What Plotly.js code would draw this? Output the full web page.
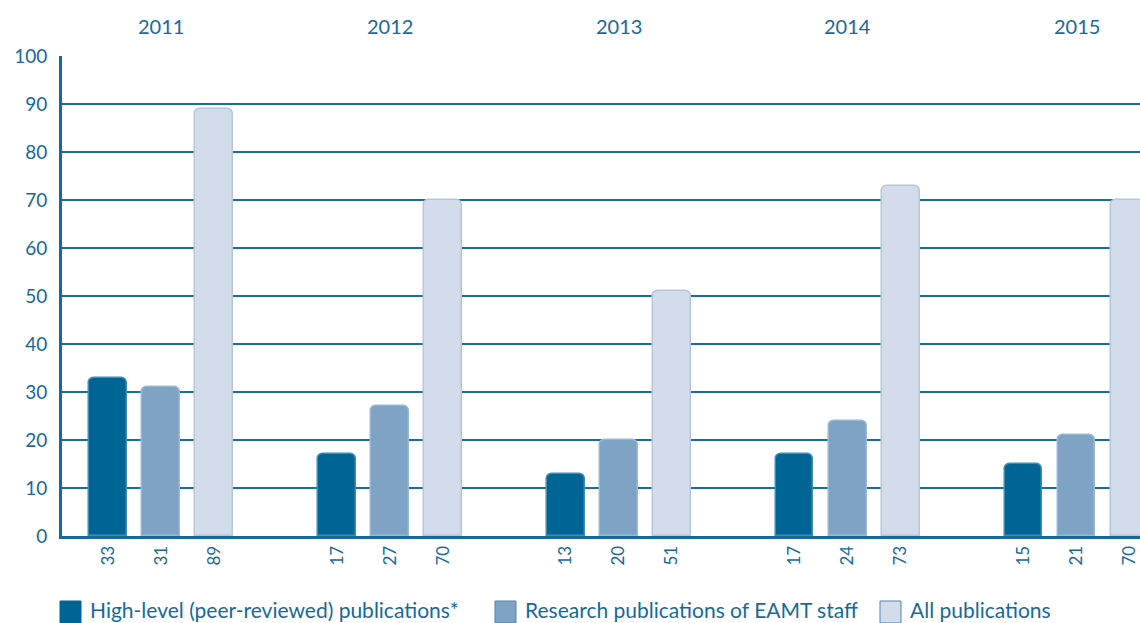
<!DOCTYPE html>
<html><head><meta charset="utf-8">
<script src="https://cdn.plot.ly/plotly-3.0.1.min.js"></script>
<style>html,body{margin:0;padding:0;background:#fff}#chart{width:1140px;height:623px}</style>
</head><body><div id="chart"></div>
<script>
const years = ["2011", "2012", "2013", "2014", "2015"];
const seriesNames = ["High-level (peer-reviewed) publications*", "Research publications of EAMT staff", "All publications"];
const highLevel = [33, 17, 13, 17, 15];
const research = [31, 27, 20, 24, 21];
const allPubs = [89, 70, 51, 73, 70];
const yTicks = [0, 10, 20, 30, 40, 50, 60, 70, 80, 90, 100];

const colors = ["#006595", "#7fa3c5", "#d3dcea"];
const lineColors = ["#3f8db5", "#9bb8d3", "#b8c6da"];
const groupStep = 4.32;
const seriesData = [highLevel, research, allPubs];
const txt = "#17699a";
const font = "Lato, 'Open Sans', sans-serif";

const W = 1140, H = 623, ML = 62, MR = 0, MT = 56, MB = 87;
const pw = W - ML - MR, ph = H - MT - MB;
const px = v => (v - ML) / pw;
const py = v => (H - MB - v) / ph;

const traces = seriesData.map((vals, k) => ({
  type: "bar",
  name: seriesNames[k],
  x: years.map((_, g) => g * groupStep + k),
  y: vals,
  width: 0.7,
  marker: {color: colors[k], line: {color: lineColors[k], width: 1.5}, cornerradius: 6},
  hoverinfo: "y"
}));

const tickvals = [], ticktext = [];
years.forEach((_, g) => seriesData.forEach((vals, k) => {
  tickvals.push(g * groupStep + k);
  ticktext.push(String(vals[g]));
}));

const annotations = years.map((yr, g) => ({
  x: g * groupStep + 1, xref: "x", y: 1, yref: "paper", yanchor: "bottom", yshift: 16,
  text: yr, showarrow: false, font: {size: 20, color: txt, family: font}
}));

// manual legend
const legendX = [60, 495, 880];
const shapes = [];
seriesNames.forEach((nm, k) => {
  shapes.push({
    type: "rect", xref: "paper", yref: "paper",
    x0: px(legendX[k]), x1: px(legendX[k] + 21), y0: py(601), y1: py(623),
    fillcolor: colors[k], line: {color: k === 0 ? colors[0] : "#4d87b3", width: 1}
  });
  annotations.push({
    x: px(legendX[k] + 28), xref: "paper", xanchor: "left",
    y: py(609), yref: "paper", yanchor: "middle",
    text: nm, showarrow: false, font: {size: 21, color: txt, family: font}
  });
});

const layout = {
  width: W, height: H,
  margin: {l: ML, r: MR, t: MT, b: MB},
  paper_bgcolor: "#fff", plot_bgcolor: "#fff",
  font: {family: font, color: txt},
  bargap: 0,
  xaxis: {
    range: [-0.868, 19.47], tickmode: "array", tickvals: tickvals, ticktext: ticktext,
    tickangle: -90, tickfont: {size: 17, color: txt}, showgrid: false, zeroline: false,
    showline: true, linecolor: txt, linewidth: 3, ticks: ""
  },
  yaxis: {
    range: [0, 100], tickmode: "array", tickvals: yTicks, tickfont: {size: 19, color: txt},
    showgrid: true, gridcolor: "#1a6e9c", gridwidth: 2, zeroline: false,
    showline: true, linecolor: txt, linewidth: 3, ticks: "", ticklabelstandoff: 8
  },
  showlegend: false,
  shapes: shapes,
  annotations: annotations
};

Plotly.newPlot("chart", traces, layout, {displayModeBar: false});
</script></body></html>
